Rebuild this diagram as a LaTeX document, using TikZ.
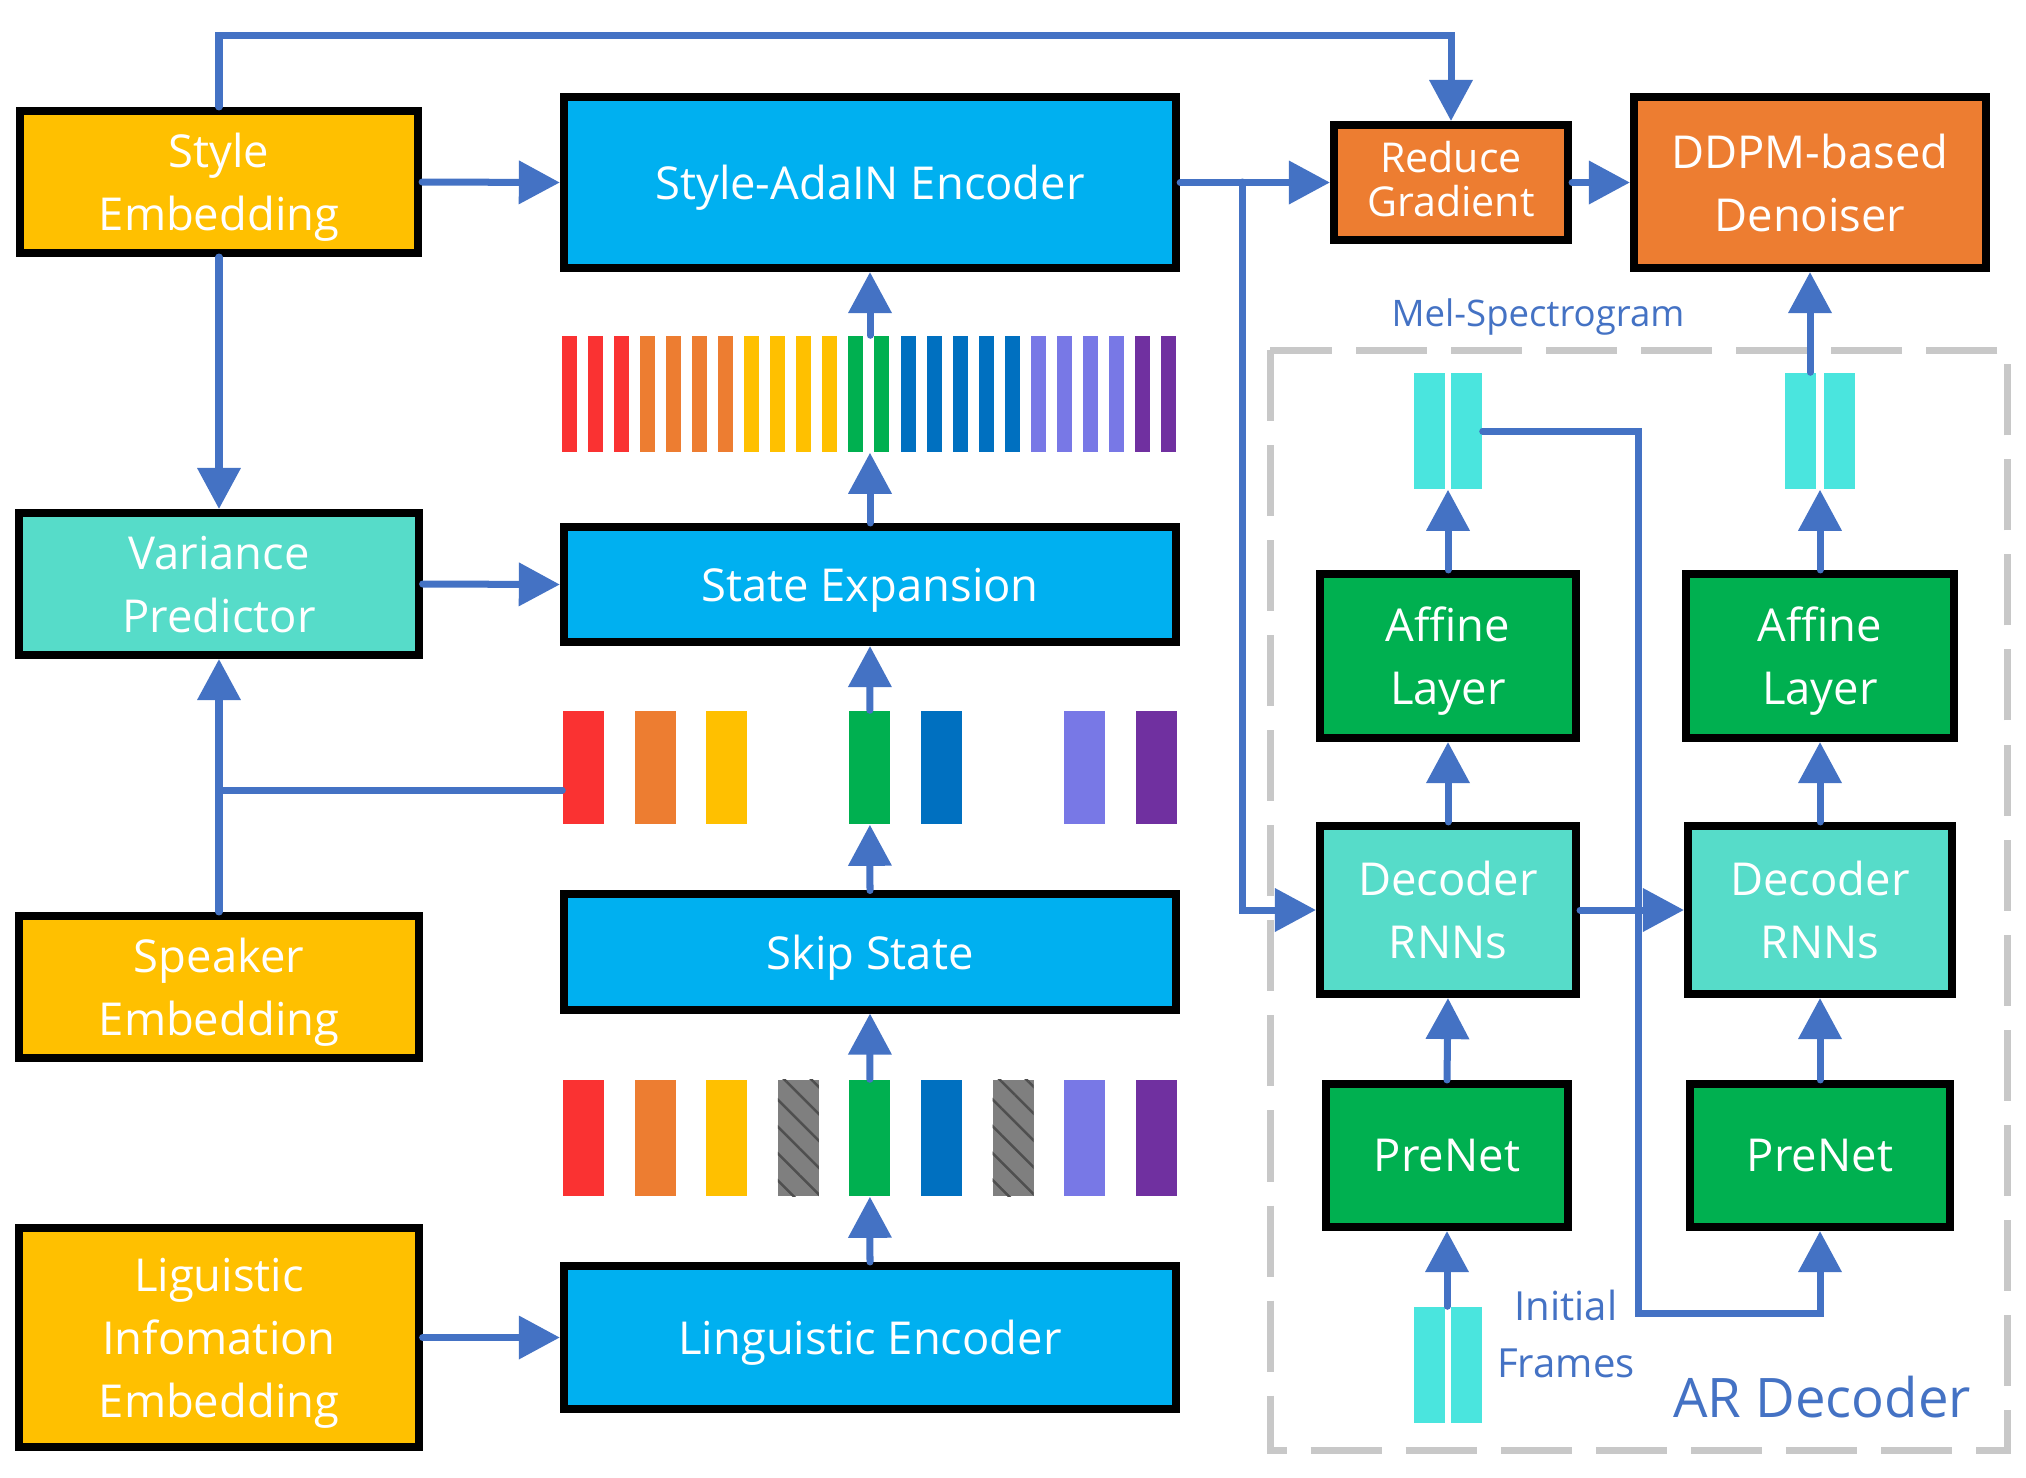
\documentclass[tikz,border=0pt]{standalone}
\usepackage{fontspec}
\setmainfont{Open Sans}
\usetikzlibrary{arrows.meta,patterns.meta}

\definecolor{embyellow}{HTML}{FFC000}
\definecolor{encblue}{HTML}{00B0F0}
\definecolor{rnnteal}{HTML}{56DCC9}
\definecolor{netgreen}{HTML}{00B050}
\definecolor{ddpmorange}{HTML}{ED7D31}
\definecolor{linkblue}{HTML}{4472C4}
\definecolor{melcyan}{HTML}{4AE5DE}
\definecolor{framegray}{HTML}{C8C8C8}
\definecolor{barred}{HTML}{FA3232}
\definecolor{barorange}{HTML}{ED7D31}
\definecolor{baryellow}{HTML}{FFC000}
\definecolor{bargreen}{HTML}{00B050}
\definecolor{barblue}{HTML}{0070C0}
\definecolor{barlav}{HTML}{7878E6}
\definecolor{barpurple}{HTML}{7030A0}
\definecolor{hatchgray}{HTML}{7F7F7F}
\definecolor{hatchdark}{HTML}{4F4F4F}

\begin{document}
\begin{tikzpicture}[x=0.01cm, y=-0.01cm, >={Triangle[length=0.41cm,width=0.42cm]},
  blk/.style={draw=black, line width=0.08cm, text=white, align=center, inner sep=0pt,
    text depth=0pt, font=\fontsize{12.9}{17.9}\selectfont},
  yel/.style={blk, fill=embyellow},
  enc/.style={blk, fill=encblue},
  rnn/.style={blk, fill=rnnteal},
  net/.style={blk, fill=netgreen},
  ddp/.style={blk, fill=ddpmorange},
  conn/.style={->, draw=linkblue, line width=0.07cm, line cap=round},
  wire/.style={draw=linkblue, line width=0.07cm, line cap=round},
  bar/.style={rectangle, inner sep=0pt, draw=none},
  mel/.style={bar, fill=melcyan, minimum width=0.31cm, minimum height=1.16cm},
  hatch/.style={bar, preaction={fill=hatchgray}, pattern={Lines[angle=-45,distance=0.19cm,line width=0.025cm]}, pattern color=hatchdark},
  note/.style={text=linkblue, align=center, inner sep=0pt}]
  \fill[white] (0,0) rectangle (2026,1478);
  \useasboundingbox (0,0) rectangle (2026,1478);

  % left column: embeddings and variance predictor
  \node[yel, minimum width=3.98cm, minimum height=1.42cm] (style) at (219,182) {Style\\Embedding};
  \node[rnn, minimum width=3.99cm, minimum height=1.42cm] (variance) at (219,584) {Variance\\Predictor};
  \node[yel, minimum width=3.99cm, minimum height=1.42cm] (speaker) at (219,987) {Speaker\\Embedding};
  \node[yel, minimum width=3.99cm, minimum height=2.19cm] (lingemb) at (219,1337.5) {Liguistic\\Infomation\\Embedding};

  % middle column: encoders
  \node[enc, minimum width=6.12cm, minimum height=1.71cm] (adain) at (870,182.5) {Style-AdaIN Encoder};
  \node[enc, minimum width=6.12cm, minimum height=1.15cm] (stateexp) at (870,584.5) {State Expansion};
  \node[enc, minimum width=6.12cm, minimum height=1.15cm] (skip) at (870,952) {Skip State};
  \node[enc, minimum width=6.12cm, minimum height=1.43cm] (lingenc) at (870,1337.5) {Linguistic Encoder};

  % frame sequences
  \foreach \c [count=\i] in {barred,barred,barred,barorange,barorange,barorange,barorange,
      baryellow,baryellow,baryellow,baryellow,bargreen,bargreen,barblue,barblue,barblue,barblue,barblue,
      barlav,barlav,barlav,barlav,barpurple,barpurple}
    \node[bar, fill=\c, minimum width=0.15cm, minimum height=1.16cm] (bt\i) at ({543.46+26.04*\i},394) {};
  \foreach \i/\c in {0/barred,1/barorange,2/baryellow,4/bargreen,5/barblue,7/barlav,8/barpurple} {
    \node[bar, fill=\c, minimum width=0.41cm, minimum height=1.13cm] (bm\i) at ({583.5+71.6*\i},767.5) {};
    \node[bar, fill=\c, minimum width=0.41cm, minimum height=1.16cm] (bb\i) at ({583.5+71.6*\i},1138) {};
  }
  \foreach \i in {3,6}
    \node[hatch, minimum width=0.41cm, minimum height=1.16cm] (bb\i) at ({583.5+71.6*\i},1138) {};

  % top right: reduce gradient and denoiser
  \node[ddp, minimum width=2.34cm, minimum height=1.15cm, text depth=2.2pt, font=\fontsize{11.7}{12.4}\selectfont] (reduce) at (1451,182.5) {Reduce\\Gradient};
  \node[ddp, minimum width=3.52cm, minimum height=1.71cm] (ddpm) at (1810,182.5) {DDPM-based\\Denoiser};

  % AR decoder
  \draw[framegray, line width=0.07cm, dash pattern=on 0.71cm off 0.24cm] (1270,350) rectangle (2007,1450);
  \node[net, minimum width=2.56cm, minimum height=1.64cm] (affL) at (1448,656) {Affine\\Layer};
  \node[net, minimum width=2.67cm, minimum height=1.64cm] (affR) at (1820,656) {Affine\\Layer};
  \node[rnn, minimum width=2.56cm, minimum height=1.68cm] (decL) at (1448,910) {Decoder\\RNNs};
  \node[rnn, minimum width=2.64cm, minimum height=1.68cm] (decR) at (1820,910) {Decoder\\RNNs};
  \node[net, minimum width=2.42cm, minimum height=1.43cm] (preL) at (1447,1155.5) {PreNet};
  \node[net, minimum width=2.59cm, minimum height=1.43cm] (preR) at (1820,1155.5) {PreNet};
  \node[mel] (melL1) at (1429.5,431) {};
  \node[mel] (melL2) at (1466.5,431) {};
  \node[mel] (melR1) at (1800,431) {};
  \node[mel] (melR2) at (1839.5,431) {};
  \node[mel] (ini1) at (1429.5,1365) {};
  \node[mel] (ini2) at (1466.5,1365) {};
  \node[note, font=\fontsize{10.4}{12}\selectfont] (mellabel) at (1538,317) {Mel-Spectrogram};
  \node[note, font=\fontsize{11.4}{16}\selectfont] (inilabel) at (1566,1334) {Initial\\Frames};
  \node[note, font=\fontsize{15.5}{18}\selectfont] (arlabel) at (1822,1397) {AR Decoder};

  % connectors
  \coordinate (split) at (1242,182);
  \coordinate (loop) at (1638,1313);
  \draw[conn] (style.north) -- (style.north |- 0,35) -| (reduce.north);
  \draw[conn] (style.east) -- (adain.west);
  \draw[conn] (style.south) -- (variance.north);
  \draw[conn] (variance.east) -- (stateexp.west);
  \draw[conn] (speaker.north) -- (variance.south);
  \draw[wire] (bm0.west |- 0,790) -- (speaker.north |- 0,790);
  \draw[conn] (lingemb.east |- lingenc.west) -- (lingenc.west);
  \draw[conn] (lingenc.north) -- (bb4.south);
  \draw[conn] (bb4.north) -- (skip.south);
  \draw[conn] (skip.north) -- (bm4.south);
  \draw[conn] (bm4.north) -- (stateexp.south);
  \draw[conn] (stateexp.north) -- (stateexp.north |- bt12.south);
  \draw[conn] (adain.south |- bt12.north) -- (adain.south);
  \draw[conn] (adain.east) -- (reduce.west);
  \draw[conn] (reduce.east) -- (ddpm.west);
  \draw[conn] (split) |- (decL.west);
  \draw[conn] (decL.east) -- (decR.west);
  \draw[conn] (preL.south |- ini1.north) -- (preL.south);
  \draw[conn] (preL.north) -- (decL.south);
  \draw[conn] (decL.north) -- (affL.south);
  \draw[conn] (affL.north) -- (affL.north |- melL1.south);
  \draw[conn] (preR.north) -- (decR.south);
  \draw[conn] (decR.north) -- (affR.south);
  \draw[conn] (affR.north) -- (affR.north |- melR1.south);
  \draw[conn] (ddpm.south |- melR1.north) -- (ddpm.south);
  \draw[conn] (melL2.east) -| (loop) -| (preR.south);
\end{tikzpicture}
\end{document}
